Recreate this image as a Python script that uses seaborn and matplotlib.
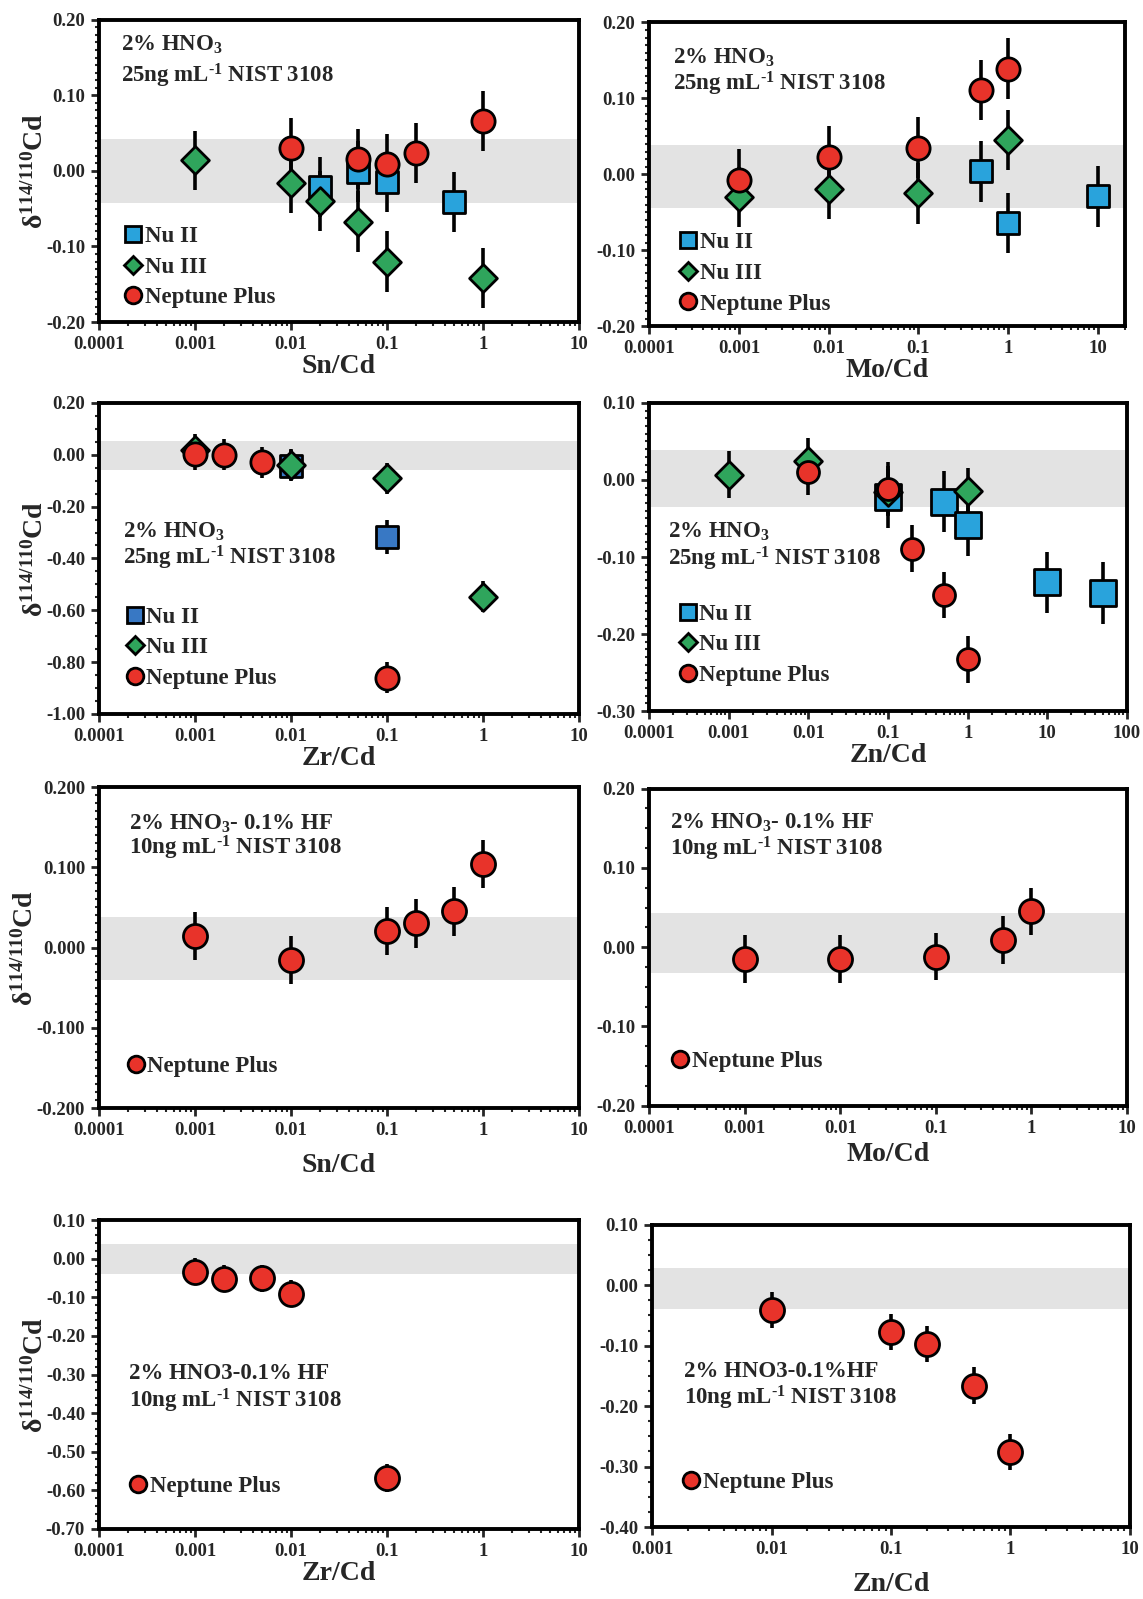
import seaborn as sns
import numpy as np
import matplotlib.pyplot as plt
from matplotlib.lines import Line2D
from matplotlib.ticker import FixedLocator, FuncFormatter, MultipleLocator, FormatStrFormatter, LogLocator, NullFormatter

sns.set_style("ticks")
plt.rcParams['font.family'] = ['Liberation Serif', 'DejaVu Serif']
plt.rcParams['font.weight'] = 'bold'
plt.rcParams['mathtext.fontset'] = 'custom'
plt.rcParams['mathtext.rm'] = 'Liberation Serif:bold'
plt.rcParams['mathtext.bf'] = 'Liberation Serif:bold'
plt.rcParams['mathtext.it'] = 'Liberation Serif:bold'
plt.rcParams['mathtext.default'] = 'bf'

BLUE = '#29a3dc'
DARKBLUE = '#3878c4'
GREEN = '#2fa55c'
RED = '#e8332a'
BAND = '#e3e3e3'

# ---- panel 1: Sn/Cd, 2% HNO3
p1_nu2_x = [0.02, 0.05, 0.1, 0.5]
p1_nu2_y = [-0.021, -0.001, -0.015, -0.041]
p1_nu2_e = [0.04, 0.04, 0.04, 0.04]
p1_nu3_x = [0.001, 0.01, 0.02, 0.05, 0.1, 1]
p1_nu3_y = [0.014, -0.016, -0.040, -0.067, -0.120, -0.142]
p1_nu3_e = [0.039, 0.04, 0.04, 0.04, 0.04, 0.04]
p1_nep_x = [0.01, 0.05, 0.1, 0.2, 1]
p1_nep_y = [0.030, 0.016, 0.009, 0.024, 0.066]
p1_nep_e = [0.04, 0.04, 0.04, 0.04, 0.04]
p1_band = (-0.042, 0.042)

# ---- panel 2: Mo/Cd, 2% HNO3
p2_nu2_x = [0.5, 1, 10]
p2_nu2_y = [0.004, -0.064, -0.029]
p2_nu2_e = [0.04, 0.04, 0.04]
p2_nu3_x = [0.001, 0.01, 0.1, 1]
p2_nu3_y = [-0.030, -0.019, -0.025, 0.045]
p2_nu3_e = [0.04, 0.04, 0.04, 0.04]
p2_nep_x = [0.001, 0.01, 0.1, 0.5, 1]
p2_nep_y = [-0.007, 0.023, 0.035, 0.111, 0.139]
p2_nep_e = [0.04, 0.04, 0.04, 0.04, 0.04]
p2_band = (-0.044, 0.038)

# ---- panel 3: Zr/Cd, 2% HNO3
p3_nu2_x = [0.01, 0.1]
p3_nu2_y = [-0.042, -0.317]
p3_nu2_e = [0.06, 0.064]
p3_nu3_x = [0.001, 0.01, 0.1, 1]
p3_nu3_y = [0.020, -0.038, -0.091, -0.548]
p3_nu3_e = [0.06, 0.06, 0.06, 0.06]
p3_nep_x = [0.001, 0.002, 0.005, 0.1]
p3_nep_y = [0.003, 0.000, -0.029, -0.861]
p3_nep_e = [0.06, 0.06, 0.06, 0.06]
p3_band = (-0.058, 0.054)

# ---- panel 4: Zn/Cd, 2% HNO3
p4_nu2_x = [0.1, 0.5, 1, 10, 50]
p4_nu2_y = [-0.022, -0.028, -0.059, -0.133, -0.147]
p4_nu2_e = [0.04, 0.04, 0.04, 0.04, 0.04]
p4_nu3_x = [0.001, 0.01, 0.1, 1]
p4_nu3_y = [0.007, 0.024, -0.016, -0.014]
p4_nu3_e = [0.03, 0.03, 0.03, 0.03]
p4_nep_x = [0.01, 0.1, 0.2, 0.5, 1]
p4_nep_y = [0.010, -0.012, -0.089, -0.149, -0.233]
p4_nep_e = [0.03, 0.035, 0.03, 0.03, 0.03]
p4_band = (-0.035, 0.039)

# ---- panel 5: Sn/Cd, 2% HNO3-0.1% HF
p5_nep_x = [0.001, 0.01, 0.1, 0.2, 0.5, 1]
p5_nep_y = [0.014, -0.016, 0.021, 0.030, 0.045, 0.104]
p5_nep_e = [0.03, 0.03, 0.03, 0.03, 0.03, 0.03]
p5_band = (-0.041, 0.038)

# ---- panel 6: Mo/Cd, 2% HNO3-0.1% HF
p6_nep_x = [0.001, 0.01, 0.1, 0.5, 1]
p6_nep_y = [-0.015, -0.015, -0.012, 0.009, 0.045]
p6_nep_e = [0.03, 0.03, 0.03, 0.03, 0.03]
p6_band = (-0.033, 0.0425)

# ---- panel 7: Zr/Cd, 2% HNO3-0.1% HF
p7_nep_x = [0.001, 0.002, 0.005, 0.01, 0.1]
p7_nep_y = [-0.034, -0.052, -0.051, -0.091, -0.568]
p7_nep_e = [0.035, 0.035, 0.035, 0.035, 0.035]
p7_band = (-0.041, 0.038)

# ---- panel 8: Zn/Cd, 2% HNO3-0.1% HF
p8_nep_x = [0.01, 0.1, 0.2, 0.5, 1]
p8_nep_y = [-0.041, -0.077, -0.097, -0.166, -0.276]
p8_nep_e = [0.03, 0.03, 0.03, 0.03, 0.03]
p8_band = (-0.039, 0.028)

fig = plt.figure(figsize=(11.43, 15.99), dpi=100)

# axes rectangles in figure fractions
rects = [
    (0.0866, 0.7986, 0.420, 0.189),
    (0.568, 0.796, 0.416, 0.190),
    (0.0866, 0.5535, 0.420, 0.1945),
    (0.568, 0.5553, 0.418, 0.1927),
    (0.0866, 0.307, 0.420, 0.2008),
    (0.568, 0.3085, 0.418, 0.1983),
    (0.0866, 0.0438, 0.420, 0.1932),
    (0.5705, 0.045, 0.418, 0.189),
]
axes = [fig.add_axes(r) for r in rects]


def draw(ax, x, y, e, marker, color, size=250):
    ax.errorbar(x, y, yerr=e, fmt='none', ecolor='black', elinewidth=2.6, capsize=0, zorder=2)
    sns.scatterplot(x=x, y=y, ax=ax, marker=marker, color=color, s=size,
                    edgecolor='black', linewidth=2, zorder=3, legend=False)


def style(ax, xlim, ylim, ymaj, ymin, yfmt, xlabel, ylabel=True, xpad=1, ylx=-0.105):
    ax.set_xscale('log')
    ax.set_xlim(*xlim)
    ax.set_ylim(*ylim)
    decades = [10.0 ** k for k in range(int(np.floor(np.log10(xlim[0]) + 1e-9)),
                                          int(np.floor(np.log10(xlim[1]) + 1e-9)) + 1)]
    ax.xaxis.set_major_locator(FixedLocator(decades))
    ax.xaxis.set_major_formatter(FuncFormatter(lambda v, p: '{:g}'.format(v)))
    ax.xaxis.set_minor_locator(LogLocator(base=10, subs=np.arange(2, 10)))
    ax.xaxis.set_minor_formatter(NullFormatter())
    ax.yaxis.set_major_locator(MultipleLocator(ymaj))
    ax.yaxis.set_minor_locator(MultipleLocator(ymin))
    ax.yaxis.set_major_formatter(FormatStrFormatter(yfmt))
    ax.tick_params(which='major', direction='out', length=6, width=2, labelsize=13.5, pad=4)
    ax.tick_params(which='minor', direction='out', length=3, width=1.5)
    for s in ax.spines.values():
        s.set_linewidth(2.8)
        s.set_color('black')
    for lab in ax.get_xticklabels() + ax.get_yticklabels():
        lab.set_fontweight('bold')
    ax.set_xlabel(xlabel, fontsize=20, fontweight='bold', labelpad=xpad)
    if ylabel:
        ax.set_ylabel(r'$\delta^{114/110}$Cd', fontsize=20, fontweight='bold')
        ax.yaxis.set_label_coords(ylx, 0.5)
    else:
        ax.set_ylabel('')


def note(ax, x, y1, y2, line1, line2):
    ax.text(x, y1, line1, transform=ax.transAxes, fontsize=16.5, fontweight='bold', va='center')
    ax.text(x, y2, line2, transform=ax.transAxes, fontsize=16.5, fontweight='bold', va='center')


def legend(ax, x, y, entries):
    handles = [Line2D([], [], marker=m, linestyle='none', markerfacecolor=c,
                      markeredgecolor='black', markeredgewidth=2, markersize=ms, label=l)
               for m, c, ms, l in entries]
    ax.legend(handles=handles, loc='center left', bbox_to_anchor=(x, y), frameon=False,
              borderpad=0, borderaxespad=0, handlelength=0.8, handletextpad=0.1,
              labelspacing=0.42, prop={'size': 16.5, 'weight': 'bold'})


three = lambda nu2c: [('s', nu2c, 11, 'Nu II'), ('D', GREEN, 9, 'Nu III'), ('o', RED, 12, 'Neptune Plus')]
one = [('o', RED, 12, 'Neptune Plus')]

t1 = '2% HNO$_3$'
t2a = r'25ng mL$^{\text{-}1}$ NIST 3108'
t3 = '2% HNO$_3$- 0.1% HF'
t2b = r'10ng mL$^{\text{-}1}$ NIST 3108'
t4 = '2% HNO3-0.1% HF'
t5 = '2% HNO3-0.1%HF'

# panel 1
ax = axes[0]
ax.axhspan(*p1_band, color=BAND, zorder=0, lw=0)
draw(ax, p1_nu2_x, p1_nu2_y, p1_nu2_e, 's', BLUE)
draw(ax, p1_nu3_x, p1_nu3_y, p1_nu3_e, 'D', GREEN, 200)
draw(ax, p1_nep_x, p1_nep_y, p1_nep_e, 'o', RED, 280)
style(ax, (1e-4, 10), (-0.2, 0.2), 0.1, 0.01, '%.2f', 'Sn/Cd')
note(ax, 0.045, 0.916, 0.814, t1, t2a)
legend(ax, 0.052, 0.182, three(BLUE))

# panel 2
ax = axes[1]
ax.axhspan(*p2_band, color=BAND, zorder=0, lw=0)
draw(ax, p2_nu2_x, p2_nu2_y, p2_nu2_e, 's', BLUE)
draw(ax, p2_nu3_x, p2_nu3_y, p2_nu3_e, 'D', GREEN, 200)
draw(ax, p2_nep_x, p2_nep_y, p2_nep_e, 'o', RED, 280)
style(ax, (1e-4, 20), (-0.2, 0.2), 0.1, 0.01, '%.2f', 'Mo/Cd', ylabel=False)
note(ax, 0.05, 0.883, 0.799, t1, t2a)
legend(ax, 0.063, 0.174, three(BLUE))

# panel 3
ax = axes[2]
ax.axhspan(*p3_band, color=BAND, zorder=0, lw=0)
draw(ax, p3_nu2_x, p3_nu2_y, p3_nu2_e, 's', DARKBLUE)
draw(ax, p3_nu3_x, p3_nu3_y, p3_nu3_e, 'D', GREEN, 200)
draw(ax, p3_nep_x, p3_nep_y, p3_nep_e, 'o', RED, 280)
style(ax, (1e-4, 10), (-1.0, 0.2), 0.2, 0.05, '%.2f', 'Zr/Cd')
note(ax, 0.05, 0.584, 0.502, t1, t2a)
legend(ax, 0.056, 0.213, three(DARKBLUE))

# panel 4
ax = axes[3]
ax.axhspan(*p4_band, color=BAND, zorder=0, lw=0)
draw(ax, p4_nu2_x, p4_nu2_y, p4_nu2_e, 's', BLUE, 330)
draw(ax, p4_nu3_x, p4_nu3_y, p4_nu3_e, 'D', GREEN, 200)
draw(ax, p4_nep_x, p4_nep_y, p4_nep_e, 'o', RED, 250)
style(ax, (1e-4, 100), (-0.3, 0.1), 0.1, 0.01, '%.2f', 'Zn/Cd', ylabel=False)
note(ax, 0.04, 0.583, 0.493, t1, t2a)
legend(ax, 0.062, 0.215, three(BLUE))

# panel 5
ax = axes[4]
ax.axhspan(*p5_band, color=BAND, zorder=0, lw=0)
draw(ax, p5_nep_x, p5_nep_y, p5_nep_e, 'o', RED, 300)
style(ax, (1e-4, 10), (-0.2, 0.2), 0.1, 0.01, '%.3f', 'Sn/Cd', xpad=10, ylx=-0.125)
note(ax, 0.062, 0.886, 0.810, t3, t2b)
legend(ax, 0.058, 0.130, one)

# panel 6
ax = axes[5]
ax.axhspan(*p6_band, color=BAND, zorder=0, lw=0)
draw(ax, p6_nep_x, p6_nep_y, p6_nep_e, 'o', RED, 300)
style(ax, (1e-4, 10), (-0.2, 0.2), 0.1, 0.025, '%.2f', 'Mo/Cd', ylabel=False, xpad=4)
note(ax, 0.043, 0.891, 0.810, t3, t2b)
legend(ax, 0.046, 0.138, one)

# panel 7
ax = axes[6]
ax.axhspan(*p7_band, color=BAND, zorder=0, lw=0)
draw(ax, p7_nep_x, p7_nep_y, p7_nep_e, 'o', RED, 300)
style(ax, (1e-4, 10), (-0.7, 0.1), 0.1, 0.02, '%.2f', 'Zr/Cd')
note(ax, 0.062, 0.502, 0.416, t4, t2b)
legend(ax, 0.063, 0.139, one)

# panel 8
ax = axes[7]
ax.axhspan(*p8_band, color=BAND, zorder=0, lw=0)
draw(ax, p8_nep_x, p8_nep_y, p8_nep_e, 'o', RED, 300)
style(ax, (1e-3, 10), (-0.4, 0.1), 0.1, 0.025, '%.2f', 'Zn/Cd', ylabel=False, xpad=10)
note(ax, 0.066, 0.515, 0.428, t5, t2b)
legend(ax, 0.063, 0.148, one)

fig.savefig('out.png', dpi=100, facecolor='white')
